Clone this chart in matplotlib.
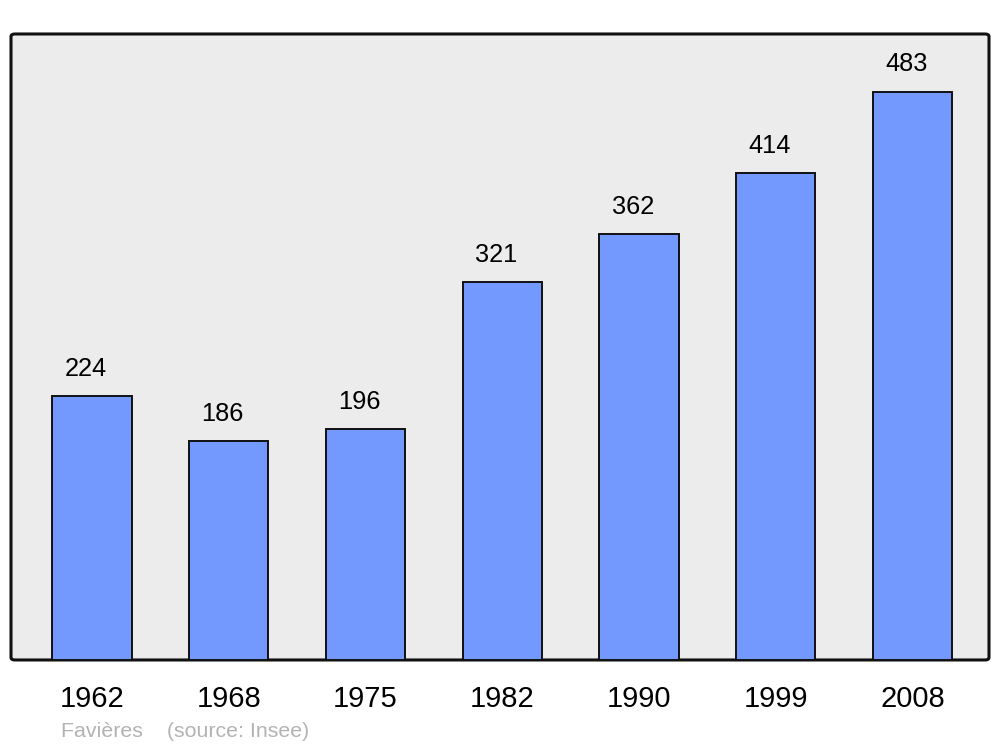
import matplotlib.pyplot as plt
from matplotlib.patches import FancyBboxPatch

plt.rcParams['font.family'] = ['Liberation Sans', 'DejaVu Sans']

years = ['1962', '1968', '1975', '1982', '1990', '1999', '2008']
population = [224, 186, 196, 321, 362, 414, 483]

fig = plt.figure(figsize=(10, 7.47), dpi=100)
ax = fig.add_axes([0.011, 0.1165, 0.978, 0.838])
ax.set_facecolor('none')

# rounded grey frame behind the bars
frame = FancyBboxPatch((0, 0), 1, 1, boxstyle='round,pad=0,rounding_size=0.004',
                       transform=ax.transAxes, facecolor='#ececec',
                       edgecolor='#111111', linewidth=2.2, zorder=0, clip_on=False)
ax.add_patch(frame)

x = range(len(years))
bars = ax.bar(x, population, width=0.58, color='#7399ff', edgecolor='#111111',
              linewidth=1.4, zorder=2)

for i, v in enumerate(population):
    ax.annotate(str(v), (i, v), xytext=(-4.5, 11), textcoords='offset points',
                ha='center', va='bottom', fontsize=18.3, color='black')

ax.set_xlim(-0.592, 6.56)
ax.set_ylim(0, 532)
ax.set_xticks(list(x))
ax.set_xticklabels(years, fontsize=21)
ax.tick_params(axis='x', length=0, pad=18)
ax.tick_params(axis='y', left=False, labelleft=False)
for s in ax.spines.values():
    s.set_visible(False)

fig.text(0.061, 0.0135, 'Favières    (source: Insee)', fontsize=15.4,
         color='#b3b3b3', ha='left', va='baseline')

fig.savefig('out.png', dpi=100, facecolor='white')
